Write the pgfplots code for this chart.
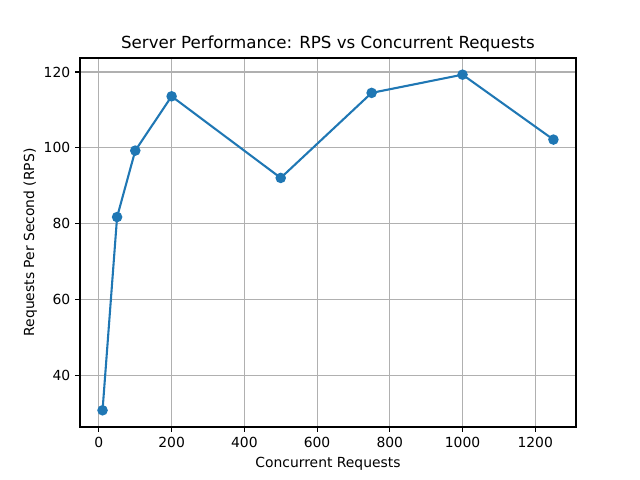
\documentclass[border=0pt]{standalone}
\usepackage{fontspec}
\setmainfont{DejaVu Sans}
\usepackage{pgfplots}
\pgfplotsset{compat=1.18}
\definecolor{mplblue}{HTML}{1F77B4}
\definecolor{gridgray}{HTML}{B0B0B0}
\begin{document}
\begin{tikzpicture}[x=1pt,y=1pt]
\begin{axis}[
  at={(0,0)}, anchor=south west,
  scale only axis,
  width=357.1pt, height=265.7pt,
  xmin=-52, xmax=1312,
  ymin=26.5, ymax=123.7,
  xtick={0,200,...,1200},
  ytick={40,60,...,120},
  grid=major,
  major grid style={color=gridgray, line width=0.8pt},
  axis line style={line width=0.8pt},
  tick style={black, line width=0.8pt},
  tick align=outside,
  major tick length=3.5pt,
  xtick pos=bottom, ytick pos=left,
  ticklabel style={font=\fontsize{10}{12}\selectfont},
  /pgf/number format/assume math mode=true,
  /pgf/number format/1000 sep={},
  scaled ticks=false,
  title={Server Performance: RPS vs Concurrent Requests},
  title style={font=\fontsize{12}{14}\selectfont, yshift=-5pt},
  xlabel={Concurrent Requests},
  ylabel={Requests Per Second (RPS)},
  label style={font=\fontsize{10}{12}\selectfont},
  xlabel style={yshift=0pt},
  ylabel style={yshift=-2pt},
]
\addplot[color=mplblue, line width=1.5pt, mark=*, mark size=3pt,
  mark options={fill=mplblue, draw=mplblue}] coordinates {
  (10,30.9) (50,81.8) (100,99.3) (200,113.6) (500,92.1)
  (750,114.5) (1000,119.3) (1250,102.2)
};
\end{axis}
\path[use as bounding box] (-57.6pt,-38.16pt) rectangle (403.2pt,307.44pt);
\end{tikzpicture}
\end{document}
